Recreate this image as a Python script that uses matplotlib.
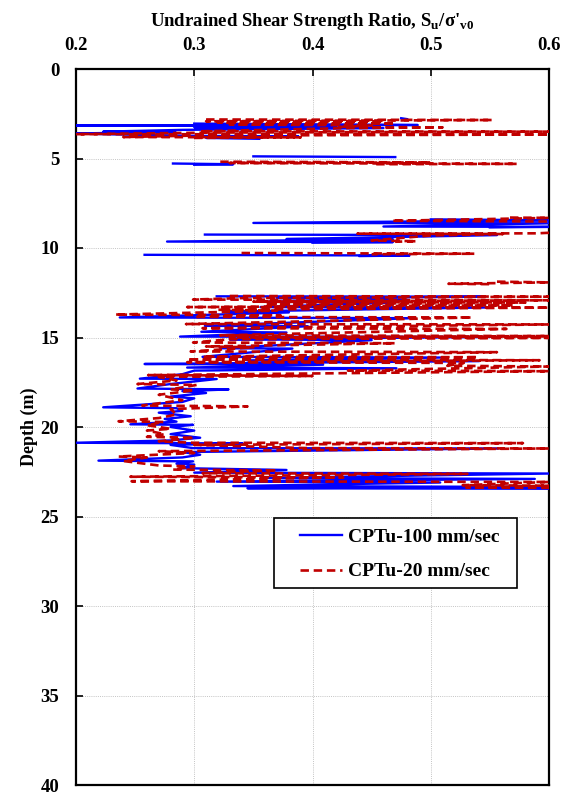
import numpy as np
import matplotlib
matplotlib.use("Agg")
import matplotlib.pyplot as plt
from matplotlib.patches import Rectangle

nan = np.nan

# CPTu-100 mm/sec (blue, solid)
depth_100 = [2.75, 2.80, nan,
             3.05, 3.13, 3.15, 3.20, 3.25, 3.30, 3.40, 3.50, 3.52, 3.60, 3.65, 3.74, 3.76, 3.85, 3.90, nan,
             4.88, 4.92, nan,
             5.28, 5.32, 5.35, nan,
             8.40, 8.45, 8.60, 8.62, 8.80, 8.82, 8.85, nan,
             9.25, 9.28, 9.50, 9.52, 9.64, 9.67, 9.70, nan,
             10.38, 10.42, 10.45, nan,
             12.70, 12.72, 12.80, 12.90, 13.00, 13.05, 13.30, 13.32, 13.55, 13.60, 13.88, 13.92,
             14.35, 14.37, 14.68, 14.72, 14.95, 14.97, 15.10, 15.15, 15.60, 15.62, 16.08, 16.12,
             16.28, 16.32, 16.48, 16.52, 16.68, 16.72, 16.85, 17.05, 17.30, 17.32, 17.60, 17.85, 17.90,
             18.00, 18.10, 18.30, 18.40, 18.60, 18.90, 18.95, 19.10, 19.20, 19.40, 19.55, 19.70, 19.85, 19.88,
             20.00, 20.20, 20.40, 20.60, 20.75, 20.88, 20.92, 21.00, 21.18, 21.20, 21.40, 21.55, 21.70,
             21.88, 21.92, 22.05, 22.10, 22.30, 22.40, 22.55, 22.60, 22.85, 22.90, 23.05, 23.10,
             23.30, 23.35, 23.42, 23.45]
ratio_100 = [0.475, 0.480, nan,
             0.300, 0.489, 0.200, 0.420, 0.300, 0.460, 0.290, 0.223, 0.284, 0.200, 0.230, 0.305, 0.388, 0.310, 0.355, nan,
             0.350, 0.470, nan,
             0.282, 0.333, 0.300, nan,
             0.500, 0.600, 0.350, 0.600, 0.460, 0.600, 0.550, nan,
             0.309, 0.556, 0.378, 0.468, 0.277, 0.468, 0.400, nan,
             0.258, 0.482, 0.440, nan,
             0.319, 0.544, 0.370, 0.480, 0.360, 0.470, 0.356, 0.550, 0.330, 0.380, 0.237, 0.484,
             0.309, 0.396, 0.306, 0.378, 0.288, 0.550, 0.330, 0.450, 0.322, 0.383, 0.307, 0.508,
             0.345, 0.541, 0.258, 0.409, 0.294, 0.471, 0.300, 0.290, 0.254, 0.319, 0.280, 0.252, 0.329,
             0.290, 0.310, 0.280, 0.300, 0.290, 0.223, 0.285, 0.290, 0.270, 0.297, 0.275, 0.285, 0.246, 0.299,
             0.280, 0.300, 0.280, 0.305, 0.280, 0.200, 0.341, 0.280, 0.299, 0.557, 0.290, 0.305, 0.290,
             0.219, 0.299, 0.285, 0.300, 0.290, 0.378, 0.300, 0.600, 0.356, 0.588, 0.319, 0.508,
             0.333, 0.600, 0.345, 0.600]

# CPTu-20 mm/sec (red, dashed)
depth_20 = [2.82, 2.85, 2.92, 2.95, 3.00, 3.05, 3.10, 3.15, 3.24, 3.26, 3.30, 3.48, 3.50, 3.55,
            3.64, 3.66, 3.72, 3.80, 3.82, 3.85, nan,
            5.18, 5.22, 5.25, 5.30, 5.32, nan,
            8.30, 8.32, 8.48, 8.52, nan,
            9.15, 9.18, 9.20, 9.22, 9.30, 9.58, 9.62, 9.65, nan,
            10.28, 10.32, 10.35, nan,
            11.88, 11.92, 12.00, 12.02, nan,
            12.68, 12.72, 12.80, 12.88, 12.92, 13.00, 13.05, 13.15, 13.20, 13.30, 13.33, 13.45,
            13.50, 13.72, 13.76, 13.85, 13.88, 14.25, 14.27, 14.48, 14.52, 14.88, 14.92, 15.00,
            15.02, 15.10, 15.28, 15.32, 15.50, 15.55, 15.78, 15.82, 16.08, 16.10, 16.23, 16.27,
            16.38, 16.42, 16.58, 16.62, 16.85, 16.88, 17.10, 17.15, 17.20, 17.40, 17.60, 17.65, 17.90,
            17.95, 18.20, 18.50, 18.80, 18.85, 19.00, 19.30, 19.50, 19.68, 19.72, 19.90, 20.10,
            20.20, 20.40, 20.55, 20.60, 20.80, 20.88, 20.90, 21.00, 21.18, 21.20, 21.35, 21.45, 21.65,
            21.70, 21.90, 22.15, 22.20, 22.38, 22.42, 22.58, 22.62, 22.78, 22.82, 23.03, 23.07,
            23.25, 23.28, 23.38, 23.40]
ratio_20 = [0.310, 0.552, 0.310, 0.460, 0.320, 0.470, 0.330, 0.450, 0.423, 0.510, 0.430, 0.305, 0.600, 0.320,
            0.200, 0.600, 0.300, 0.240, 0.390, 0.300, nan,
            0.322, 0.500, 0.330, 0.573, 0.450, nan,
            0.567, 0.600, 0.467, 0.600, nan,
            0.600, 0.590, 0.438, 0.561, 0.500, 0.450, 0.488, 0.470, nan,
            0.340, 0.537, 0.450, nan,
            0.556, 0.600, 0.515, 0.550, nan,
            0.330, 0.600, 0.340, 0.299, 0.600, 0.350, 0.580, 0.360, 0.570, 0.294, 0.600, 0.320,
            0.370, 0.233, 0.373, 0.300, 0.535, 0.293, 0.600, 0.307, 0.564, 0.322, 0.600, 0.330,
            0.600, 0.330, 0.299, 0.470, 0.310, 0.350, 0.297, 0.556, 0.307, 0.540, 0.294, 0.592,
            0.294, 0.528, 0.514, 0.600, 0.430, 0.600, 0.261, 0.400, 0.270, 0.285, 0.252, 0.302, 0.280,
            0.300, 0.270, 0.290, 0.256, 0.345, 0.280, 0.285, 0.270, 0.236, 0.274, 0.260, 0.280,
            0.260, 0.275, 0.260, 0.300, 0.270, 0.299, 0.578, 0.300, 0.396, 0.600, 0.270, 0.300, 0.236,
            0.260, 0.240, 0.270, 0.300, 0.282, 0.370, 0.307, 0.531, 0.246, 0.426, 0.247, 0.600,
            0.527, 0.600, 0.530, 0.600]

x_ticks = [0.2, 0.3, 0.4, 0.5, 0.6]
y_ticks = [0, 5, 10, 15, 20, 25, 30, 35, 40]

plt.rcParams['font.family'] = ['Liberation Serif', 'DejaVu Serif']
plt.rcParams['font.weight'] = 'bold'
plt.rcParams['mathtext.fontset'] = 'custom'
plt.rcParams['mathtext.rm'] = 'Liberation Serif:bold'
plt.rcParams['mathtext.bf'] = 'Liberation Serif:bold'

fig = plt.figure(figsize=(5.71, 7.96), dpi=100)
ax = fig.add_axes([76/571, 1-785/796, 473/571, 716/796])

ax.plot(ratio_100, depth_100, color='#0000FF', lw=1.7, label='CPTu-100 mm/sec', zorder=3)
ax.plot(ratio_20, depth_20, color='#C00000', lw=1.9, ls=(0, (3.2, 1.8)), label='CPTu-20 mm/sec', zorder=4)

ax.set_xlim(0.2, 0.6)
ax.set_ylim(40, 0)
ax.set_xticks(x_ticks)
ax.set_yticks(y_ticks)
ax.set_xticklabels([f"{v:.1f}" for v in x_ticks])
ax.set_yticklabels([str(v) for v in y_ticks])
ax.xaxis.tick_top()
ax.xaxis.set_label_position('top')
ax.tick_params(axis='both', direction='in', length=5, width=1.2, labelsize=13.5)
ax.tick_params(axis='x', pad=10.5)
ax.tick_params(axis='y', pad=12)
ax.grid(True, color='#C4C4C4', ls=(0, (1, 1.2)), lw=0.7)
for s in ax.spines.values():
    s.set_linewidth(1.6)
    s.set_color('black')

ax.set_xlabel(r"Undrained Shear Strength Ratio, S$_\mathrm{u}$/σ'$_\mathrm{v0}$",
              fontsize=13.5, fontweight='bold', labelpad=8.5)
ax.set_ylabel("Depth (m)", fontsize=13, fontweight='bold', labelpad=2)

# legend frame box
ax.add_patch(Rectangle((0.4186, 0.2751), 0.9323 - 0.4186, 0.3729 - 0.2751,
                       transform=ax.transAxes, facecolor='white', edgecolor='black',
                       lw=1.2, zorder=5))
leg = ax.legend(loc='upper left', bbox_to_anchor=(0.4736, 0.3580), borderaxespad=0,
                frameon=False, handlelength=2.15, borderpad=0,
                labelspacing=0.85, handletextpad=0.3,
                prop={'family': 'Liberation Serif', 'weight': 'bold', 'size': 14})
leg.set_zorder(6)

fig.savefig('out.png', dpi=100)
